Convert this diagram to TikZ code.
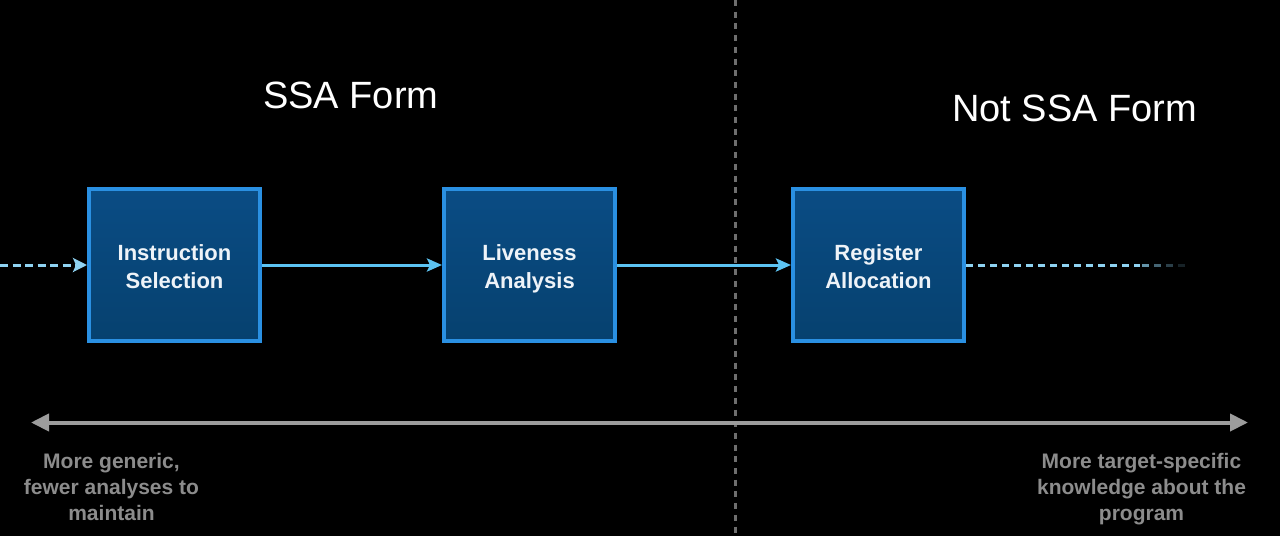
\documentclass[tikz,border=0pt]{standalone}
\usepackage{fontspec}
\setmainfont{Liberation Sans}
\usetikzlibrary{arrows.meta}
\definecolor{boxfilltop}{HTML}{0A4C84}
\definecolor{boxfillbot}{HTML}{06416F}
\definecolor{boxline}{HTML}{2A90E2}
\definecolor{boxtext}{HTML}{EEF3F8}
\definecolor{flow}{HTML}{5CC3F2}
\definecolor{flowdash}{HTML}{8FD3F2}
\definecolor{axisgray}{HTML}{9C9C9C}
\definecolor{notegray}{HTML}{8C8C8C}
\definecolor{sepgray}{HTML}{6E6E6E}
\newcommand\stagelines[2]{\raisebox{-4pt}[\height][\depth]{\begin{tabular}{@{}c@{}}#1\\#2\end{tabular}}}
\tikzset{
  stage/.style={draw=boxline, line width=4pt, top color=boxfilltop, bottom color=boxfillbot,
    minimum width=171pt, minimum height=152pt, inner sep=0pt, align=center,
    text=boxtext, font=\fontsize{22}{28}\selectfont\bfseries},
  flowarrow/.style={draw=flow, line width=3pt, -{Stealth[length=15pt,width=13pt,inset=3pt]}},
  dashflow/.style={draw=flowdash, line width=3pt, dash pattern=on 7pt off 5pt},
  title/.style={text=white, font=\fontsize{38}{44}\selectfont, inner sep=0pt, anchor=base west},
  note/.style={text=notegray, font=\fontsize{21}{26}\selectfont\bfseries, align=center, inner sep=0pt, anchor=north},
  axis/.style={draw=axisgray, line width=4pt, {Triangle[length=18pt,width=17pt]}-{Triangle[length=18pt,width=17pt]}},
  separator/.style={draw=sepgray, line width=2.2pt, dash pattern=on 6pt off 5.7pt}
}
\begin{document}
\begin{tikzpicture}[x=1pt,y=-1pt]
\fill[black] (0,0) rectangle (1280,536);
\useasboundingbox (0,0) rectangle (1280,536);

% separator
\coordinate (septop) at (735.5,0);
\coordinate (sepbot) at (735.5,536);
\draw[separator] (septop) -- (sepbot);

% titles
\node[title] (ssa) at (263,108) {SSA Form};
\node[title] (notssa) at (952,121.5) {Not SSA Form};

% stages
\node[stage] (isel) at (174.5,265) {\stagelines{Instruction}{Selection}};
\node[stage] (live) at (529.5,265) {\stagelines{Liveness}{Analysis}};
\node[stage] (ralloc) at (878.5,265) {\stagelines{Register}{Allocation}};

% connectors
\coordinate (instart) at (0,265);
\draw[dashflow, -{Stealth[length=14pt,width=14pt,inset=3pt]}, dash pattern=on 8pt off 4.5pt] (instart) -- (isel.west);
\draw[flowarrow] (isel.east) -- (live.west);
\draw[flowarrow] (live.east) -- (ralloc.west);
\coordinate (fadestart) at (1140,265);
\draw[dashflow] (ralloc.east) -- (fadestart);
\foreach \i/\p in {0/70,1/48,2/30,3/16} {
  \draw[draw=flowdash!\p!black, line width=3pt] (1142+\i*12,265) -- ++(7,0);
}

% axis
\coordinate (axl) at (31,422.5);
\coordinate (axr) at (1248,422.5);
\draw[axis] (axl) -- (axr);

% notes
\node[note] (gen) at (111.5,453.5) {More generic,\\fewer analyses to\\maintain};
\node[note] (tgt) at (1141.5,453.5) {More target-specific\\knowledge about the\\program};
\end{tikzpicture}
\end{document}
